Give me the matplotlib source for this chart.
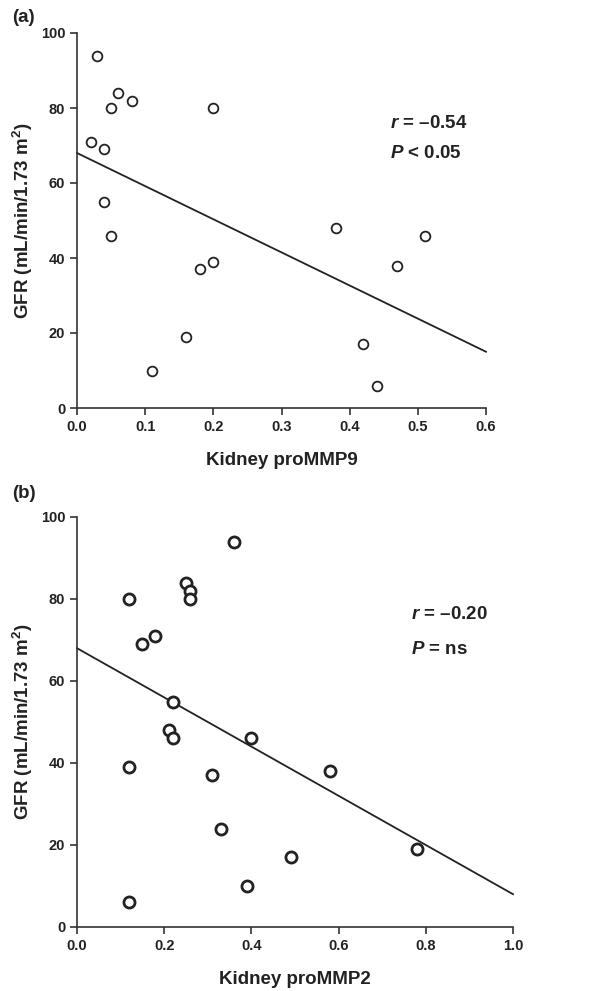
import matplotlib
matplotlib.use("Agg")
import matplotlib.pyplot as plt
from matplotlib import font_manager

names = {f.name for f in font_manager.fontManager.ttflist}
fam = "Liberation Sans Narrow" if "Liberation Sans Narrow" in names else "Liberation Sans"
plt.rcParams['font.family'] = [fam, 'DejaVu Sans']
plt.rcParams['font.weight'] = 'bold'
plt.rcParams['mathtext.fontset'] = 'custom'
plt.rcParams['mathtext.bf'] = f'{fam}:bold'
plt.rcParams['mathtext.bfit'] = f'{fam}:bold:italic'
plt.rcParams['mathtext.it'] = f'{fam}:italic'
plt.rcParams['mathtext.rm'] = fam

# Panel (a): Kidney proMMP9 vs GFR
mmp9_x = [0.03, 0.06, 0.08, 0.05, 0.20, 0.02, 0.04, 0.04, 0.05, 0.38, 0.51,
          0.18, 0.20, 0.16, 0.11, 0.42, 0.44, 0.47]
mmp9_y = [94, 84, 82, 80, 80, 71, 69, 55, 46, 48, 46,
          37, 39, 19, 10, 17, 6, 38]
fit_a_x = [0.0, 0.6]
fit_a_y = [68, 15]

# Panel (b): Kidney proMMP2 vs GFR
mmp2_x = [0.12, 0.12, 0.12, 0.15, 0.18, 0.21, 0.22, 0.22, 0.25, 0.26, 0.26,
          0.36, 0.31, 0.33, 0.39, 0.40, 0.49, 0.58, 0.78]
mmp2_y = [80, 39, 6, 69, 71, 48, 55, 46, 84, 82, 80,
          94, 37, 24, 10, 46, 17, 38, 19]
fit_b_x = [0.0, 1.0]
fit_b_y = [68, 8]

ticks_a = [0.0, 0.1, 0.2, 0.3, 0.4, 0.5, 0.6]
ticks_b = [0.0, 0.2, 0.4, 0.6, 0.8, 1.0]
yticks = [0, 20, 40, 60, 80, 100]

fig = plt.figure(figsize=(6.08, 9.91), dpi=100)
axa = fig.add_axes([77/608, 1-408/991, (486-77)/608, (408-33)/991])
axb = fig.add_axes([77/608, 1-927/991, (513-77)/608, (927-517)/991])

TXT = '#222222'

def style(ax, xt, xlim, xlabel):
    ax.set_xlim(*xlim)
    ax.set_ylim(0, 100)
    ax.set_xticks(xt)
    ax.set_xticklabels([f"{v:.1f}" for v in xt])
    ax.set_yticks(yticks)
    for s in ['top', 'right']:
        ax.spines[s].set_visible(False)
    for s in ['left', 'bottom']:
        ax.spines[s].set_linewidth(1.2)
        ax.spines[s].set_color('#333333')
    ax.tick_params(direction='out', length=5, width=1.2, labelsize=10.5,
                   colors='#333333', labelcolor=TXT)
    for lab in ax.get_xticklabels() + ax.get_yticklabels():
        lab.set_fontweight('bold')
    ax.set_xlabel(xlabel, fontsize=13.5, fontweight='bold', labelpad=13, color=TXT)
    ax.set_ylabel("GFR (mL/min/1.73 m$\\mathbf{^2}$)", fontsize=13.5, fontweight='bold',
                  labelpad=4, color=TXT)

axa.plot(fit_a_x, fit_a_y, color=TXT, lw=1.3, clip_on=False)
axa.plot(mmp9_x, mmp9_y, 'o', mfc='white', mec=TXT, mew=1.3, ms=7, clip_on=False)
style(axa, ticks_a, (0, 0.6), "Kidney proMMP9")
axa.text(0.765, 0.748, "$\\mathbfit{r}$ = \u20130.54", transform=axa.transAxes,
         fontsize=13.5, fontweight='bold', color=TXT)
axa.text(0.765, 0.668, "$\\mathbfit{P}$ < 0.05", transform=axa.transAxes,
         fontsize=13.5, fontweight='bold', color=TXT)

axb.plot(fit_b_x, fit_b_y, color=TXT, lw=1.3, clip_on=False)
axb.plot(mmp2_x, mmp2_y, 'o', mfc='white', mec=TXT, mew=2.0, ms=8, clip_on=False)
style(axb, ticks_b, (0, 1.0), "Kidney proMMP2")
axb.text(0.765, 0.752, "$\\mathbfit{r}$ = \u20130.20", transform=axb.transAxes,
         fontsize=13.5, fontweight='bold', color=TXT)
axb.text(0.765, 0.667, "$\\mathbfit{P}$ = ns", transform=axb.transAxes,
         fontsize=13.5, fontweight='bold', color=TXT)

fig.text(12/608, 1-18/991, "(a)", fontsize=13.5, fontweight='bold', va='center', color=TXT)
fig.text(12/608, 1-493/991, "(b)", fontsize=13.5, fontweight='bold', va='center', color=TXT)

fig.savefig("out.png", dpi=100)
